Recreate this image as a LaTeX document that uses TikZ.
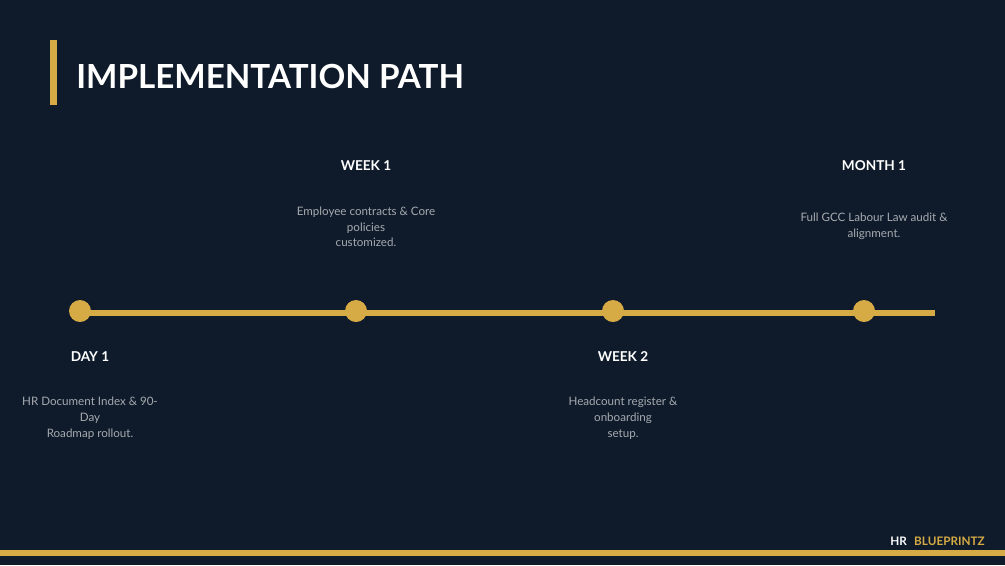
\documentclass[tikz,border=0pt]{standalone}
\usepackage{fontspec}
\setmainfont{Lato}
\usetikzlibrary{backgrounds}
\definecolor{bg}{HTML}{0F1B2A}
\definecolor{gold}{HTML}{D6AA45}
\definecolor{desc}{HTML}{A6AAB0}
\begin{document}
\begin{tikzpicture}[x=0.75pt,y=-0.75pt,
  dot/.style={circle,fill=gold,inner sep=0pt,minimum size=16.5pt},
  head/.style={text=white,font=\bfseries\fontsize{10.2}{12}\selectfont,inner sep=0pt},
  desctext/.style={text=desc,font=\fontsize{8.7}{11.8}\selectfont,align=center,inner sep=0pt},
  track/.style={draw=gold,line width=4.5pt}]
\useasboundingbox (0,0) rectangle (1005,565);
% title
\fill[gold] (50,40) rectangle (57,105);
\node[anchor=base west,inner sep=0pt,text=white,font=\bfseries\fontsize{24.9}{30}\selectfont] (title) at (76,88) {IMPLEMENTATION PATH};
% timeline
\coordinate (tend) at (935,313);
\node[dot] (d1) at (80,311) {};
\node[dot] (d2) at (356,311) {};
\node[dot] (d3) at (613,311) {};
\node[dot] (d4) at (864,311) {};
\begin{scope}[on background layer]
\fill[bg] (0,0) rectangle (1005,565);
\draw[track] (d1.center |- tend) -- (tend);
\end{scope}
% labels
\node[head] (h1) at (90,357) {DAY 1};
\node[head] (h2) at (366,166) {WEEK 1};
\node[head] (h3) at (623,357) {WEEK 2};
\node[head] (h4) at (874,166) {MONTH 1};
\node[desctext] (t1) at (90,418) {HR Document Index \& 90-\\Day\\Roadmap rollout.};
\node[desctext] (t2) at (366,227) {Employee contracts \& Core\\policies\\customized.};
\node[desctext] (t3) at (623,418) {Headcount register \&\\onboarding\\setup.};
\node[desctext] (t4) at (874,226.5) {Full GCC Labour Law audit \&\\alignment.};
% footer
\draw[draw=gold,line width=3.8pt] (0,553) -- (1005,553);
\node[anchor=base east,inner sep=0pt,font=\bfseries\fontsize{8.8}{11}\selectfont] (brand) at (985,545) {\textcolor{white}{HR}\hspace{5.5pt}\textcolor{gold}{BLUEPRINTZ}};
\end{tikzpicture}
\end{document}
